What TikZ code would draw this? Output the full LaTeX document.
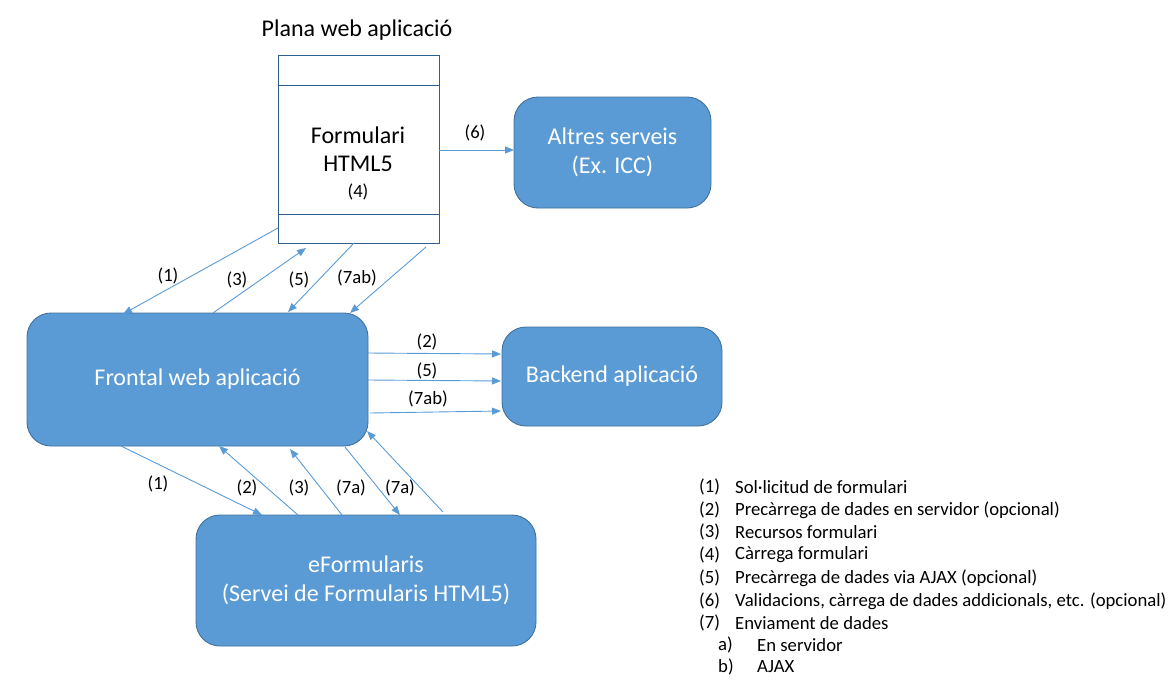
\documentclass[tikz,border=0pt]{standalone}
\usepackage{fontspec}
\setmainfont{Carlito}
\usetikzlibrary{arrows.meta}
\definecolor{fillb}{HTML}{5B9BD5}
\definecolor{edgeb}{HTML}{41719C}
\definecolor{boxe}{HTML}{2F5F8F}
\tikzset{
  bluebox/.style={draw=edgeb, fill=fillb, line width=0.9pt, rounded corners=24pt, text=white, align=center, font=\fontsize{24}{29}\selectfont},
  conn/.style={draw=fillb, line width=0.9pt, -{Triangle[length=9pt,width=7pt]}},
  lbl/.style={font=\fontsize{18.7}{22}\selectfont, inner sep=0pt},
  leg/.style={font=\fontsize{18.7}{22}\selectfont, inner sep=0pt, anchor=west}
}
\begin{document}
\begin{tikzpicture}[x=1pt,y=-1pt]
\useasboundingbox (0,0) rectangle (1174,688);
% Plana web page box
\node[font=\fontsize{24}{28}\selectfont, inner sep=0pt] (title) at (357,30) {Plana web aplicació};
\node[draw=boxe, line width=0.9pt, minimum width=161pt, minimum height=188pt, inner sep=0pt] (plana) at (358.5,149) {};
\draw[draw=boxe, line width=0.9pt] (278,85) -- (439,85);
\draw[draw=boxe, line width=0.9pt] (278,214) -- (439,214);
\node[font=\fontsize{24}{28}\selectfont, align=center, inner sep=0pt] (form) at (358,149) {Formulari\\HTML5};
\node[lbl] (four) at (358,192) {(4)};
% Blue boxes
\node[bluebox, minimum width=197pt, minimum height=111pt] (altres) at (612.5,152.5) {Altres serveis\\(Ex. ICC)};
\node[bluebox, minimum width=341pt, minimum height=133pt] (frontal) at (197.5,379.5) {Frontal web aplicació};
\node[bluebox, minimum width=220pt, minimum height=99pt] (backend) at (612,376.5) {Backend aplicació};
\node[bluebox, minimum width=340pt, minimum height=131pt] (eform) at (366,580.5) {eFormularis\\(Servei de Formularis HTML5)};
% coordinates for connector ends
\coordinate (p6) at (439,150); \coordinate (a6) at (514,150);
\coordinate (p1) at (278,228); \coordinate (f1) at (123,314);
\coordinate (f3) at (213,313); \coordinate (p3) at (306,248);
\coordinate (p5) at (354,243); \coordinate (f5) at (288,312);
\coordinate (p7) at (426,247); \coordinate (f7) at (350,313);
\coordinate (fb2) at (368,353); \coordinate (bb2) at (501,354);
\coordinate (fb5) at (368,380); \coordinate (bb5) at (501,381);
\coordinate (fb7) at (370,413); \coordinate (bb7) at (501,411);
\coordinate (fe1) at (121,446); \coordinate (ee1) at (262,515);
\coordinate (ee2) at (298,515); \coordinate (fe2) at (219,446);
\coordinate (ee3) at (342,515); \coordinate (fe3) at (290,449);
\coordinate (fe7) at (345,447); \coordinate (ee7) at (400,515);
\coordinate (ee8) at (443,512); \coordinate (fe8) at (367,431);
% connectors
\draw[conn] (p6) -- (a6);
\draw[conn] (p1) -- (f1);
\draw[conn] (f3) -- (p3);
\draw[conn] (p5) -- (f5);
\draw[conn] (p7) -- (f7);
\draw[conn] (fb2) -- (bb2);
\draw[conn] (fb5) -- (bb5);
\draw[conn] (fb7) -- (bb7);
\draw[conn] (fe1) -- (ee1);
\draw[conn] (ee2) -- (fe2);
\draw[conn] (ee3) -- (fe3);
\draw[conn] (fe7) -- (ee7);
\draw[conn] (ee8) -- (fe8);
% labels
\node[lbl] (l6) at (475,133) {(6)};
\node[lbl] (l1a) at (168,276) {(1)};
\node[lbl] (l3a) at (237,280) {(3)};
\node[lbl] (l5a) at (299,280) {(5)};
\node[lbl] (l7a) at (357,278) {(7ab)};
\node[lbl] (l2b) at (427,342) {(2)};
\node[lbl] (l5b) at (427,371) {(5)};
\node[lbl] (l7b) at (428,399) {(7ab)};
\node[lbl] (l1c) at (158,484) {(1)};
\node[lbl] (l2c) at (247,488) {(2)};
\node[lbl] (l3c) at (299,488) {(3)};
\node[lbl] (l7c) at (351,488) {(7a)};
\node[lbl] (l7d) at (400,488) {(7a)};
% legend
\node[leg] (n1) at (699,487) {(1)}; \node[leg] (t1) at (735,487) {Sol·licitud de formulari};
\node[leg] (n2) at (699,510) {(2)}; \node[leg] (t2) at (735,510) {Precàrrega de dades en servidor (opcional)};
\node[leg] (n3) at (699,532) {(3)}; \node[leg] (t3) at (735,532) {Recursos formulari};
\node[leg] (n4) at (699,555) {(4)}; \node[leg] (t4) at (735,555) {Càrrega formulari};
\node[leg] (n5) at (699,578) {(5)}; \node[leg] (t5) at (735,578) {Precàrrega de dades via AJAX (opcional)};
\node[leg] (n6) at (699,601) {(6)}; \node[leg] (t6) at (735,601) {Validacions, càrrega de dades addicionals, etc. (opcional)};
\node[leg] (n7) at (699,623) {(7)}; \node[leg] (t7) at (735,623) {Enviament de dades};
\node[leg] (na) at (718,645) {a)}; \node[leg] (ta) at (757,645) {En servidor};
\node[leg] (nb) at (718,667) {b)}; \node[leg] (tb) at (757,667) {AJAX};
\end{tikzpicture}
\end{document}
